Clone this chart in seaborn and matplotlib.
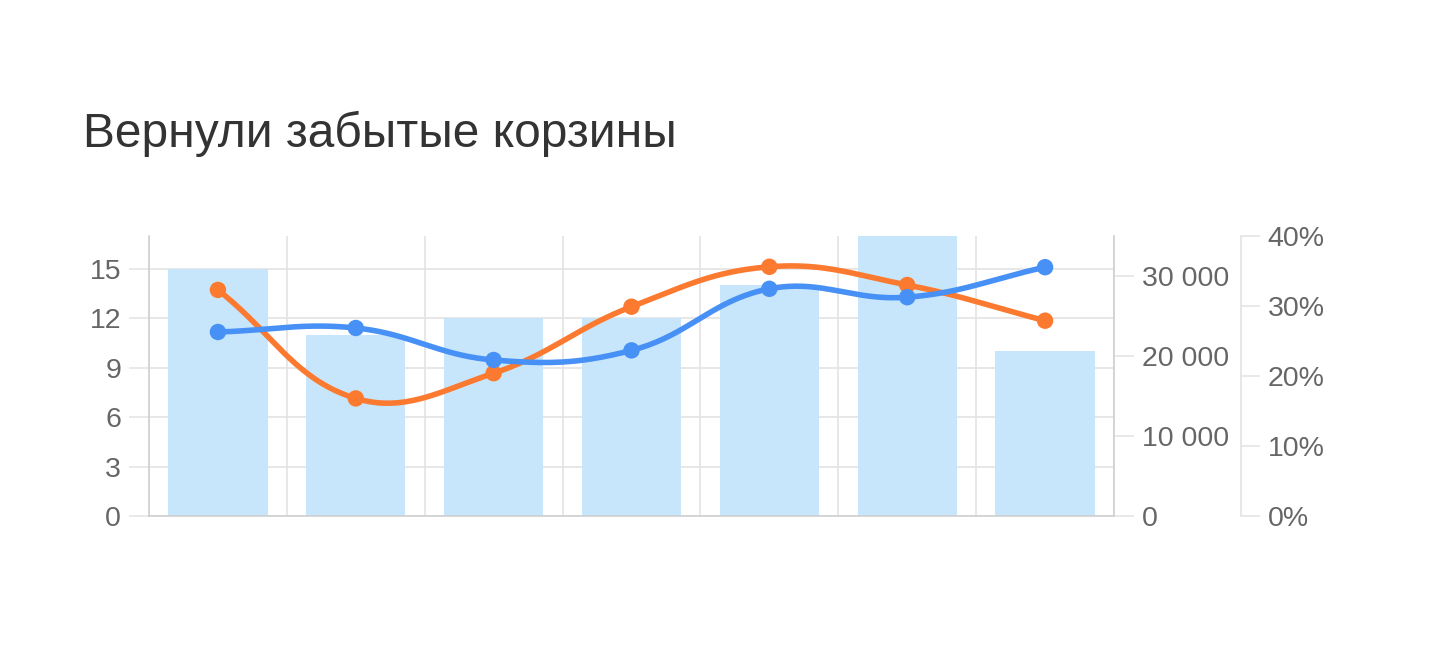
import numpy as np
import matplotlib
matplotlib.use("Agg")
import matplotlib.pyplot as plt
from matplotlib.ticker import FuncFormatter
import seaborn as sns

title = "Вернули забытые корзины"
periods = ["1", "2", "3", "4", "5", "6", "7"]
carts = [15, 11, 12, 12, 14, 17, 10]
revenue = [23000, 23500, 19500, 20700, 28400, 27350, 31100]
share = [32.3, 16.8, 20.4, 29.9, 35.6, 33.0, 27.9]

carts_ticks = [0, 3, 6, 9, 12, 15]
revenue_ticks = [0, 10000, 20000, 30000]
share_ticks = [0, 10, 20, 30, 40]

BAR = "#c8e6fb"
BLUE = "#4790f6"
ORANGE = "#fb7a30"
LABEL = "#666666"
GRID = "#e3e3e3"


def spline(ax, xs, ys, tension=0.4, steps=40):
    # chart.js style cubic bezier, computed in screen space
    pts = ax.transData.transform(np.column_stack([xs, ys]))
    n = len(pts)
    cin, cout = [], []
    for i in range(n):
        prev, cur, nxt = pts[max(i - 1, 0)], pts[i], pts[min(i + 1, n - 1)]
        d01 = np.hypot(*(cur - prev))
        d12 = np.hypot(*(nxt - cur))
        tot = d01 + d12
        s01 = d01 / tot if tot else 0
        s12 = d12 / tot if tot else 0
        cin.append(cur - tension * s01 * (nxt - prev))
        cout.append(cur + tension * s12 * (nxt - prev))
    t = np.linspace(0, 1, steps)[:, None]
    segs = []
    for i in range(n - 1):
        p0, p1, p2, p3 = pts[i], cout[i], cin[i + 1], pts[i + 1]
        seg = (1 - t) ** 3 * p0 + 3 * (1 - t) ** 2 * t * p1 + 3 * (1 - t) * t ** 2 * p2 + t ** 3 * p3
        segs.append(seg if i == 0 else seg[1:])
    return ax.transData.inverted().transform(np.vstack(segs))


sns.set_style("white")
plt.rcParams["font.family"] = ["Liberation Sans", "DejaVu Sans"]

W, H = 1440, 663
fig = plt.figure(figsize=(W / 100, H / 100), dpi=100)
ax = fig.add_axes([149 / W, (H - 516) / H, (1114 - 149) / W, (516 - 236) / H])
ax2 = ax.twinx()
ax3 = ax.twinx()

x = np.arange(len(periods))
sns.barplot(x=periods, y=carts, ax=ax, color=BAR, saturation=1, width=0.72, linewidth=0)

ax.set_xlim(-0.5, len(periods) - 0.5)
ax.set_ylim(0, 17)
ax2.set_ylim(0, 35000)
ax3.set_ylim(0, 40)

# left axis
ax.set_axisbelow(True)
ax.set_yticks(carts_ticks)
ax.set_xticks(np.append(x - 0.5, x[-1] + 0.5))
ax.set_xticklabels([])
ax.grid(True, color=GRID, lw=1.2)
ax.tick_params(axis="y", length=14.5, width=1.1, color=GRID, pad=5.5, labelsize=20.5, labelcolor=LABEL)
ax.tick_params(axis="x", length=14, width=1.1, color=GRID)
for s in ["top", "right"]:
    ax.spines[s].set_visible(False)
for s in ["left", "bottom"]:
    ax.spines[s].set_color("#cfcfcf")
    ax.spines[s].set_linewidth(1.2)
ax.set_xlabel("")
ax.set_ylabel("")

# middle axis (revenue)
ax2.set_yticks(revenue_ticks)
ax2.yaxis.set_major_formatter(FuncFormatter(lambda v, p: f"{int(v):,}".replace(",", " ")))
ax2.tick_params(axis="y", length=14.5, width=1.1, color=GRID, pad=5.5, labelsize=20.5, labelcolor=LABEL)
for s in ["top", "left", "bottom"]:
    ax2.spines[s].set_visible(False)
ax2.spines["right"].set_color("#cfcfcf")
ax2.spines["right"].set_linewidth(1.2)

# right axis (share)
ax3.set_yticks(share_ticks)
ax3.yaxis.set_major_formatter(FuncFormatter(lambda v, p: f"{v:.0f}%"))
ax3.spines["right"].set_position(("outward", 91.5))
ax3.tick_params(axis="y", length=13.5, width=1.1, color=GRID, pad=5.5, labelsize=20.5, labelcolor=LABEL)
for s in ["top", "left", "bottom"]:
    ax3.spines[s].set_visible(False)
ax3.spines["right"].set_color("#e3e3e3")
ax3.spines["right"].set_linewidth(1.2)

ax.set_zorder(1)
ax3.set_zorder(2)
ax2.set_zorder(3)

curve = spline(ax3, x, share)
ax3.plot(curve[:, 0], curve[:, 1], color=ORANGE, lw=4, solid_capstyle="round")
sns.scatterplot(x=x, y=share, ax=ax3, color=ORANGE, s=140, edgecolor="none", zorder=3)

curve = spline(ax2, x, revenue)
ax2.plot(curve[:, 0], curve[:, 1], color=BLUE, lw=4, solid_capstyle="round")
sns.scatterplot(x=x, y=revenue, ax=ax2, color=BLUE, s=140, edgecolor="none", zorder=3)

for a in (ax2, ax3):
    a.set_xlabel("")
    a.set_ylabel("")

fig.text(83 / W, 1 - 147 / H, title, fontsize=34.5, color="#333333", va="baseline", ha="left")

fig.savefig("out.png", dpi=100, facecolor="white")
